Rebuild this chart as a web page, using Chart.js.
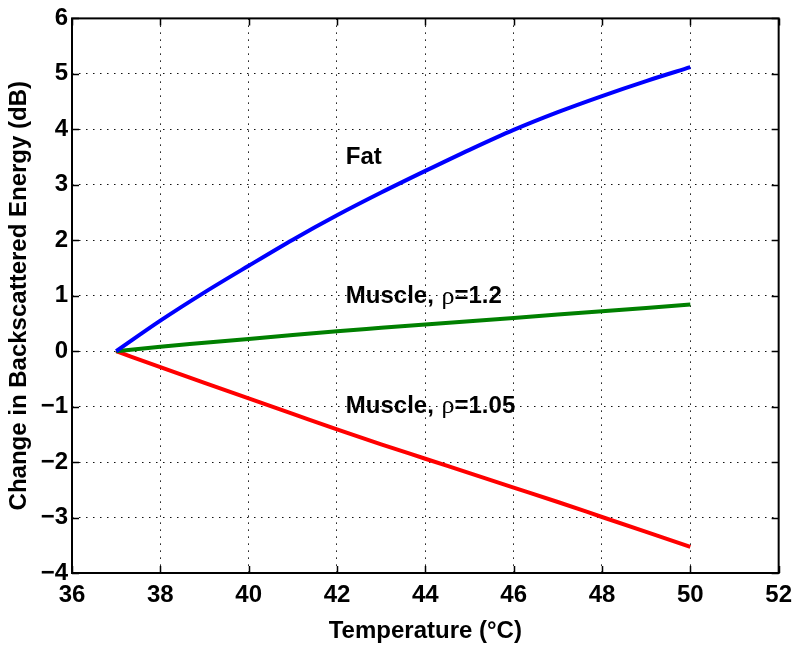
<!DOCTYPE html>
<html>
<head>
<meta charset="utf-8">
<script src="https://cdn.jsdelivr.net/npm/chart.js@4.4.1/dist/chart.umd.min.js"></script>
<style>
  html, body { margin: 0; padding: 0; background: #fff; }
</style>
</head>
<body>
<canvas id="grafico" width="800" height="646"></canvas>
<script>
// temperatura (C) y cambio de energia retrodispersada (dB)
const temperaturas = [37, 38, 39, 40, 41, 42, 43, 44, 45, 46, 47, 48, 49, 50];
const grasa      = [0, 0.55, 1.06, 1.54, 2.01, 2.45, 2.86, 3.25, 3.63, 3.99, 4.31, 4.60, 4.87, 5.12];
const musculo12  = [0, 0.08, 0.15, 0.22, 0.29, 0.36, 0.42, 0.48, 0.54, 0.60, 0.66, 0.72, 0.78, 0.84];
const musculo105 = [0, -0.29, -0.57, -0.85, -1.13, -1.41, -1.68, -1.94, -2.20, -2.46, -2.72, -2.99, -3.26, -3.53];

const ejeX = [36, 52, 2];   // min, max, paso
const ejeY = [-4, 6, 1];

const etiquetas  = ['Fat', 'Muscle, ρ=1.2', 'Muscle, ρ=1.05'];
const etiquetasX = [42.2, 42.2, 42.2];
const etiquetasY = [3.49, 0.98, -1.0];

const FUENTE = '"Liberation Sans", Arial, Helvetica, sans-serif';

function puntos(valores){
  return temperaturas.map((t, i) => ({x: t, y: valores[i]}));
}

// marco de ejes, marcas hacia dentro y textos sobre las curvas
const marcoMatlab = {
  id: 'marcoMatlab',
  afterDatasetsDraw(chart){
    const ctx = chart.ctx;
    const area = chart.chartArea;
    const sx = chart.scales.x, sy = chart.scales.y;

    // textos
    ctx.save();
    ctx.fillStyle = '#000';
    ctx.textBaseline = 'middle';
    ctx.textAlign = 'left';
    etiquetas.forEach((txt, i) => {
      let px = sx.getPixelForValue(etiquetasX[i]);
      const py = sy.getPixelForValue(etiquetasY[i]);
      const partes = txt.split('ρ');
      partes.forEach((parte, j) => {
        if (j > 0){
          ctx.font = '26px "Liberation Serif", "Times New Roman", serif';
          ctx.fillText('ρ', px + 1, py);
          px += ctx.measureText('ρ').width + 1;
        }
        ctx.font = 'bold 24px ' + FUENTE;
        ctx.fillText(parte, px, py);
        px += ctx.measureText(parte).width;
      });
    });
    ctx.restore();

    // marcas
    ctx.save();
    ctx.strokeStyle = '#000';
    ctx.lineWidth = 1.5;
    ctx.beginPath();
    sx.ticks.forEach(t => {
      const px = Math.round(sx.getPixelForValue(t.value)) + 0.5;
      ctx.moveTo(px, area.bottom); ctx.lineTo(px, area.bottom - 7);
      ctx.moveTo(px, area.top); ctx.lineTo(px, area.top + 7);
    });
    sy.ticks.forEach(t => {
      const py = Math.round(sy.getPixelForValue(t.value)) + 0.5;
      ctx.moveTo(area.left, py); ctx.lineTo(area.left + 7, py);
      ctx.moveTo(area.right, py); ctx.lineTo(area.right - 7, py);
    });
    ctx.stroke();

    ctx.lineWidth = 2;
    ctx.strokeRect(area.left, area.top, area.right - area.left, area.bottom - area.top);
    ctx.restore();
  }
};

const grafico = new Chart(document.getElementById('grafico'), {
  type: 'line',
  data: {
    datasets: [
      { label: 'Fat', data: puntos(grasa), borderColor: '#0000ff' },
      { label: 'Muscle, ρ=1.2', data: puntos(musculo12), borderColor: '#008000' },
      { label: 'Muscle, ρ=1.05', data: puntos(musculo105), borderColor: '#ff0000' }
    ]
  },
  options: {
    responsive: false,
    animation: false,
    devicePixelRatio: 1,
    layout: { padding: { top: 15, right: 20, left: 0, bottom: 0 } },
    elements: {
      point: { radius: 0 },
      line: { borderWidth: 4, cubicInterpolationMode: 'monotone', borderCapStyle: 'butt' }
    },
    plugins: {
      legend: { display: false },
      tooltip: { enabled: false }
    },
    scales: {
      x: {
        type: 'linear',
        min: ejeX[0], max: ejeX[1],
        ticks: { stepSize: ejeX[2], padding: 8, color: '#000',
                 font: { family: FUENTE, size: 24, weight: 'bold' } },
        grid: { color: '#111', lineWidth: 1, drawTicks: false },
        border: { display: false, dash: [1.5, 5.5] },
        title: { display: true, text: 'Temperature (°C)', color: '#000',
                 padding: { top: 0, bottom: 0 },
                 font: { family: FUENTE, size: 24, weight: 'bold' } },
        afterFit(scale){ scale.height = 73; }
      },
      y: {
        type: 'linear',
        min: ejeY[0], max: ejeY[1],
        ticks: { stepSize: ejeY[2], padding: 4, color: '#000',
                 font: { family: FUENTE, size: 24, weight: 'bold' },
                 callback: v => String(v).replace('-', '\u2212') },
        grid: { color: '#111', lineWidth: 1, drawTicks: false },
        border: { display: false, dash: [1.5, 5.5] },
        title: { display: true, text: 'Change in Backscattered Energy (dB)', color: '#000',
                 padding: { top: 5, bottom: 0 },
                 font: { family: FUENTE, size: 24, weight: 'bold' } },
        afterFit(scale){ scale.width = 72; }
      }
    }
  },
  plugins: [marcoMatlab]
});
</script>
</body>
</html>
